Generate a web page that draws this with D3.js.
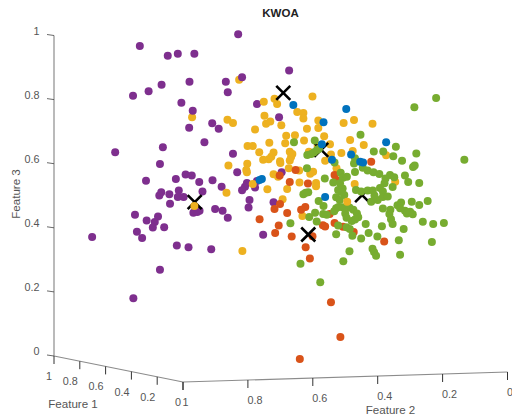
<!DOCTYPE html>
<html>
<head>
<meta charset="utf-8">
<script src="https://cdn.jsdelivr.net/npm/d3@7"></script>
<style>
  body { margin: 0; background: #fff; }
  text { font-family: "Liberation Sans", Arial, sans-serif; }
</style>
</head>
<body>
<div id="viz"></div>
<script>
// each point is [value read against the Feature 2 ruler, value read against the Feature 3 ruler]
// the picture is flat so the depth along Feature 1 is lost, that is why some go over 1
const purple = [[1.133,.967],[1.047,.937],[1.016,.943],[.965,.943],[.830,1.004],[.818,.870],[.868,.856],[.862,.823],[.980,.856],[1.066,.846],[1.106,.826],[1.154,.812],[1.005,.790],[.970,.765],[.772,.786],[.910,.726],[.890,.709],[.981,.712],[.934,.667],[1.062,.651],[1.209,.636],[.846,.631],[1.071,.599],[.833,.573],[.992,.566],[.973,.563],[1.022,.552],[1.114,.547],[.950,.543],[.909,.548],[.881,.528],[.803,.540],[.809,.528],[.818,.517],[.772,.546],[.778,.526],[1.013,.516],[.940,.513],[1.067,.511],[1.073,.501],[1.042,.505],[1.016,.496],[.998,.496],[1.040,.475],[.795,.487],[.798,.463],[.968,.447],[.949,.453],[.956,.449],[.901,.459],[.878,.453],[.862,.431],[1.148,.441],[1.077,.435],[1.087,.418],[1.093,.401],[1.112,.423],[1.058,.402],[1.142,.388],[1.126,.368],[1.019,.345],[.983,.339],[.913,.333],[1.280,.371],[1.153,.180],[1.071,.269],[.721,.480],[.753,.378],[.696,.573],[.704,.745],[.673,.891]];

const yellowBack = [[.827,.862],[.972,.745]];
const yellow = [[.863,.737],[.846,.727],[.778,.707],[.801,.655],[.785,.655],[.860,.594],[.802,.600],[.805,.580],[.803,.573],[.785,.537],[.866,.509],[.965,.468],[.817,.328],[.740,.520],[.679,.521],[.641,.541],[.590,.540],[.590,.530],[.721,.567],[.693,.489],[.632,.437],[.601,.810],[.718,.803],[.710,.786],[.751,.793],[.648,.761],[.629,.758],[.629,.741],[.749,.750],[.731,.732],[.744,.725],[.697,.720],[.583,.735],[.583,.711],[.618,.709],[.505,.727],[.473,.736],[.416,.725],[.682,.687],[.655,.689],[.685,.664],[.627,.672],[.734,.665],[.565,.686],[.485,.674],[.443,.658],[.547,.661],[.585,.655],[.765,.636],[.721,.635],[.728,.622],[.736,.614],[.753,.612],[.671,.637],[.663,.630],[.667,.621],[.701,.608],[.700,.602],[.671,.610],[.674,.586],[.612,.637],[.512,.633],[.544,.629],[.477,.640],[.374,.626],[.562,.609],[.527,.586],[.599,.575],[.608,.569],[.642,.579],[.707,.559],[.471,.537],[.346,.544]];
const yellowFront = [[.494,.481]];

const red = [[.420,.606],[.653,.580],[.533,.565],[.528,.549],[.702,.563],[.671,.543],[.615,.538],[.701,.474],[.718,.459],[.623,.465],[.636,.456],[.679,.446],[.764,.427],[.705,.407],[.716,.384],[.665,.373],[.601,.374],[.622,.339],[.609,.304],[.569,.408],[.562,.404],[.533,.415],[.507,.403],[.474,.387],[.380,.357],[.548,.443],[.544,.168],[.515,.059],[.640,-.009]];

const blue = [[.660,.783],[.497,.771],[.567,.729],[.374,.667],[.572,.661],[.482,.629],[.541,.612],[.454,.606],[.445,.604],[.757,.552],[.764,.549],[.562,.496]];

const green = [[.220,.805],[.287,.776],[.453,.690],[.344,.653],[.594,.672],[.658,.667],[.412,.638],[.383,.638],[.281,.632],[.352,.623],[.325,.609],[.133,.612],[.291,.590],[.286,.594],[.617,.627],[.605,.630],[.596,.636],[.581,.647],[.587,.643],[.473,.601],[.470,.617],[.533,.604],[.618,.586],[.470,.574],[.563,.554],[.537,.541],[.514,.572],[.507,.556],[.495,.559],[.516,.539],[.446,.587],[.431,.579],[.413,.573],[.395,.568],[.362,.565],[.349,.558],[.376,.554],[.379,.539],[.393,.524],[.316,.563],[.306,.543],[.272,.540],[.354,.527],[.522,.518],[.508,.523],[.528,.495],[.503,.502],[.517,.487],[.511,.512],[.467,.518],[.451,.513],[.431,.516],[.415,.516],[.420,.481],[.400,.487],[.410,.501],[.384,.513],[.384,.496],[.369,.498],[.328,.479],[.339,.470],[.295,.481],[.272,.471],[.246,.484],[.384,.460],[.361,.456],[.331,.461],[.316,.453],[.300,.450],[.310,.445],[.292,.442],[.629,.505],[.614,.511],[.622,.509],[.582,.484],[.567,.468],[.528,.461],[.508,.464],[.487,.463],[.534,.452],[.521,.465],[.475,.456],[.464,.445],[.460,.433],[.470,.426],[.480,.421],[.500,.445],[.496,.431],[.593,.447],[.611,.434],[.557,.441],[.568,.443],[.588,.420],[.669,.414],[.522,.407],[.496,.402],[.486,.396],[.478,.375],[.528,.380],[.437,.412],[.387,.405],[.364,.443],[.359,.427],[.354,.412],[.320,.396],[.261,.419],[.229,.412],[.196,.415],[.428,.384],[.401,.373],[.451,.367],[.335,.361],[.233,.356],[.416,.335],[.411,.324],[.405,.313],[.331,.316],[.487,.327],[.506,.296],[.638,.288],[.577,.230]];

// cluster centres, read the same way
const centrePurple = [[.964,.480]];
const centreYellow = [[.574,.643]];
const centreRed = [[.614,.379]];
const centreGreen = [[.448,.502]];
const centreBlue = [[.691,.821]];

const ticks = [0, 0.2, 0.4, 0.6, 0.8, 1];

const svg = d3.select('#viz').append('svg')
  .attr('width', 512)
  .attr('height', 418);

// the three axes of the tilted view
const xF2 = d3.scaleLinear().domain([0, 1]).range([507.5, 183]);
const yF2 = d3.scaleLinear().domain([0, 1]).range([372, 382]);
const xF1 = d3.scaleLinear().domain([0, 1]).range([183, 54]);
const yF1 = d3.scaleLinear().domain([0, 1]).range([382, 356]);
const yF3 = d3.scaleLinear().domain([0, 1]).range([356, 35.5]);

const axis = svg.append('g').attr('fill', '#555').style('font-size', '10.8px');

axis.append('line')
  .attr('x1', xF1(1)).attr('y1', yF3(0)).attr('x2', xF1(1)).attr('y2', yF3(1))
  .attr('stroke', '#8c8c8c').attr('stroke-width', 1.2);
axis.append('line')
  .attr('x1', xF1(0)).attr('y1', yF1(0)).attr('x2', xF1(1)).attr('y2', yF1(1))
  .attr('stroke', '#8c8c8c').attr('stroke-width', 1.2);
axis.append('line')
  .attr('x1', xF2(0)).attr('y1', yF2(0)).attr('x2', xF2(1)).attr('y2', yF2(1))
  .attr('stroke', '#8c8c8c').attr('stroke-width', 1.2);

// Feature 3
axis.selectAll('.t3').data(ticks).join('line').attr('class', 't3')
  .attr('x1', xF1(1) - 7).attr('x2', xF1(1))
  .attr('y1', d => yF3(d) - 1).attr('y2', d => yF3(d))
  .attr('stroke', '#444').attr('stroke-width', 0.8);
axis.selectAll('.l3').data(ticks).join('text').attr('class', 'l3')
  .attr('x', 39.5)
  .attr('y', d => yF3(d) - 1)
  .attr('text-anchor', 'end')
  .text(d => d);

// Feature 1
axis.selectAll('.t1').data(ticks).join('line').attr('class', 't1')
  .attr('x1', d => xF1(d)).attr('x2', d => xF1(d))
  .attr('y1', d => yF1(d)).attr('y2', d => yF1(d) + 8)
  .attr('stroke', '#333').attr('stroke-width', 1);
axis.selectAll('.l1').data(ticks).join('text').attr('class', 'l1')
  .attr('x', d => xF1(d) - 2)
  .attr('y', d => yF1(d) + 24)
  .attr('text-anchor', 'end')
  .text(d => d);

// Feature 2
axis.selectAll('.t2').data(ticks).join('line').attr('class', 't2')
  .attr('x1', d => xF2(d)).attr('x2', d => xF2(d))
  .attr('y1', d => yF2(d)).attr('y2', d => yF2(d) + 8)
  .attr('stroke', '#333').attr('stroke-width', 1);
axis.selectAll('.l2').data(ticks).join('text').attr('class', 'l2')
  .attr('x', d => xF2(d) - 0.5)
  .attr('y', d => yF2(d) + 24)
  .text(d => d);

const titleSize = '11.6px';
axis.append('text').attr('x', 73).attr('y', 407.5).attr('text-anchor', 'middle').style('font-size', titleSize).text('Feature 1');
axis.append('text').attr('x', 390.5).attr('y', 414).attr('text-anchor', 'middle').style('font-size', titleSize).text('Feature 2');
axis.append('text')
  .attr('transform', 'translate(20,194) rotate(-90)')
  .attr('text-anchor', 'middle')
  .style('font-size', titleSize)
  .text('Feature 3');

svg.append('text')
  .attr('x', 280.5).attr('y', 17)
  .attr('text-anchor', 'middle')
  .attr('fill', '#222')
  .style('font-size', '11.5px')
  .style('font-weight', 'bold')
  .text('KWOA');

const cross = d3.symbol().type(d3.symbolTimes).size(130);

function dots(points, color) {
  svg.append('g').selectAll('circle').data(points).join('circle')
    .attr('cx', d => xF2(d[0]))
    .attr('cy', d => yF3(d[1]))
    .attr('r', 4)
    .style('fill', color);
}

function centres(points) {
  svg.append('g').selectAll('path').data(points).join('path')
    .attr('d', cross)
    .attr('transform', d => `translate(${xF2(d[0])},${yF3(d[1])})`)
    .style('fill', 'none')
    .style('stroke', '#000')
    .style('stroke-width', 2.6);
}

// order matters, the clusters overlap
dots(yellowBack, '#EDB120');
dots(purple, '#7E2F8E');
centres(centrePurple);
dots(yellow, '#EDB120');
centres(centreYellow);
dots(red, '#D95319');
centres(centreRed);
centres(centreGreen);
dots(green, '#77AC30');
dots(yellowFront, '#EDB120');
dots(blue, '#0072BD');
centres(centreBlue);
</script>
</body>
</html>
